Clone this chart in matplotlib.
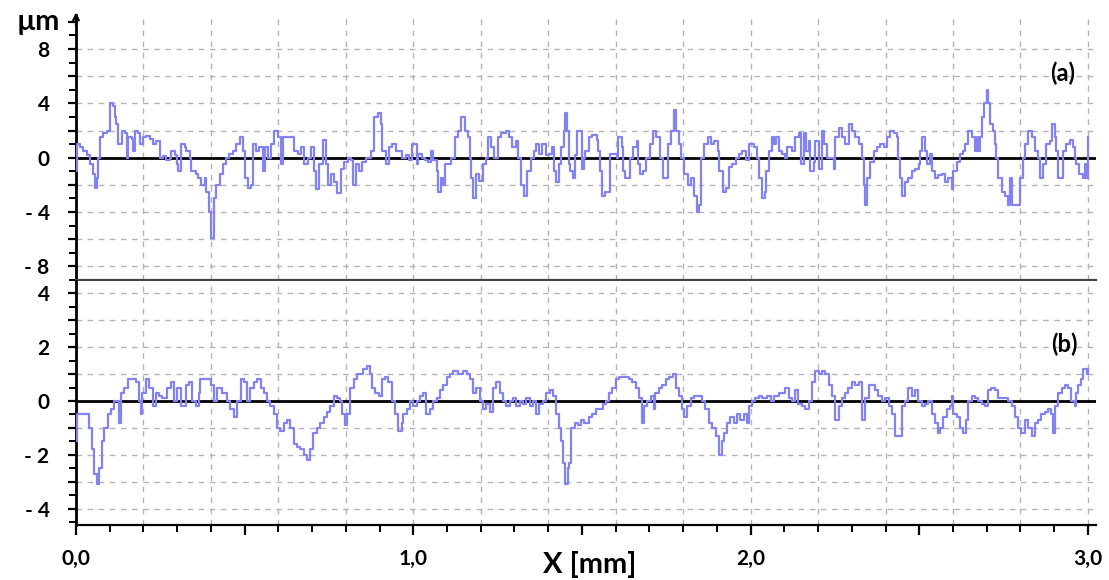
""" Perfiles de rugosidad (a) y (b) """

import matplotlib
matplotlib.use("Agg")
import matplotlib.pyplot as plt
from matplotlib.ticker import MultipleLocator, FuncFormatter

plt.rcParams["font.family"] = ["Lato", "DejaVu Sans"]
plt.rcParams["font.weight"] = "bold"

# perfil (a): x en mm, altura en um
x_a = [
  0.000, 0.003, 0.012, 0.022, 0.032, 0.041, 0.051, 0.056, 0.062, 0.066,
  0.071, 0.081, 0.091, 0.100, 0.110, 0.115, 0.120, 0.125, 0.135, 0.145,
  0.150, 0.155, 0.165, 0.169, 0.174, 0.184, 0.189, 0.199, 0.209, 0.219,
  0.229, 0.238, 0.248, 0.258, 0.268, 0.278, 0.283, 0.293, 0.298, 0.302,
  0.312, 0.322, 0.327, 0.337, 0.342, 0.357, 0.362, 0.371, 0.381, 0.386,
  0.394, 0.401, 0.408, 0.416, 0.426, 0.435, 0.445, 0.455, 0.465, 0.475,
  0.485, 0.495, 0.500, 0.509, 0.519, 0.524, 0.534, 0.544, 0.554, 0.559,
  0.568, 0.578, 0.588, 0.598, 0.608, 0.613, 0.623, 0.637, 0.647, 0.657,
  0.667, 0.677, 0.687, 0.697, 0.706, 0.711, 0.721, 0.731, 0.741, 0.746,
  0.756, 0.766, 0.775, 0.785, 0.795, 0.805, 0.815, 0.820, 0.830, 0.839,
  0.849, 0.859, 0.874, 0.884, 0.894, 0.903, 0.908, 0.918, 0.928, 0.938,
  0.948, 0.958, 0.967, 0.977, 0.987, 0.997,
  1.010, 1.015, 1.025, 1.034, 1.044, 1.051, 1.059, 1.069, 1.074, 1.083,
  1.088, 1.093, 1.103, 1.113, 1.123, 1.132, 1.142, 1.152, 1.162, 1.167,
  1.172, 1.178, 1.186, 1.196, 1.206, 1.216, 1.221, 1.230, 1.240, 1.250,
  1.260, 1.275, 1.284, 1.294, 1.304, 1.309, 1.319, 1.328, 1.338, 1.348,
  1.358, 1.363, 1.373, 1.382, 1.392, 1.402, 1.412, 1.417, 1.422, 1.431,
  1.439, 1.446, 1.451, 1.456, 1.461, 1.466, 1.473, 1.480, 1.485, 1.495,
  1.500, 1.505, 1.510, 1.520, 1.529, 1.544, 1.549, 1.554, 1.559, 1.569,
  1.578, 1.583, 1.593, 1.603, 1.608, 1.618, 1.623, 1.627, 1.637, 1.642,
  1.652, 1.662, 1.667, 1.672, 1.681, 1.691, 1.701, 1.711, 1.721, 1.730,
  1.740, 1.750, 1.755, 1.765, 1.772, 1.779, 1.789, 1.794, 1.804, 1.814,
  1.824, 1.833, 1.841, 1.848, 1.853, 1.863, 1.873, 1.882, 1.892, 1.902,
  1.907, 1.917, 1.926, 1.936, 1.946, 1.956, 1.966, 1.975, 1.985, 1.995,
  2.010, 2.020, 2.025, 2.034, 2.042, 2.046, 2.054, 2.062, 2.069, 2.074,
  2.084, 2.094, 2.103, 2.108, 2.123, 2.133, 2.143, 2.148, 2.158, 2.163,
  2.172, 2.177, 2.187, 2.192, 2.202, 2.212, 2.217, 2.227, 2.236, 2.246,
  2.251, 2.261, 2.271, 2.281, 2.291, 2.300, 2.310, 2.320, 2.330, 2.335,
  2.340, 2.345, 2.355, 2.365, 2.374, 2.384, 2.394, 2.404, 2.414, 2.424,
  2.433, 2.438, 2.443, 2.450, 2.458, 2.468, 2.478, 2.488, 2.498, 2.502,
  2.507, 2.517, 2.522, 2.532, 2.537, 2.547, 2.557, 2.567, 2.576, 2.586,
  2.596, 2.601, 2.611, 2.621, 2.631, 2.635, 2.645, 2.655, 2.665, 2.670,
  2.675, 2.680, 2.685, 2.693, 2.700, 2.704, 2.709, 2.719, 2.724, 2.729,
  2.734, 2.744, 2.754, 2.762, 2.768, 2.775, 2.783, 2.793, 2.798, 2.808,
  2.813, 2.823, 2.833, 2.842, 2.852, 2.857, 2.862, 2.867, 2.877, 2.887,
  2.894, 2.903, 2.906, 2.911, 2.921, 2.926, 2.936, 2.946, 2.956, 2.961,
  2.966, 2.975, 2.985, 2.990, 2.995, 3.000,
]
y_a = [
  -1.0, 1.0, 0.8, 0.5, 0.2, -0.5, -1.2, -2.2, -1.5, 0.0,
  1.5, 1.8, 2.0, 4.0, 3.8, 3.0, 2.5, 1.0, 2.0, 1.8,
  0.0, 1.5, 1.4, 0.5, 2.0, 1.8, 1.0, 1.5, 1.6, 1.4,
  1.0, 1.2, 0.0, 0.1, -0.2, 0.0, 0.5, 0.2, -0.5, -1.0,
  1.0, 0.8, 0.5, 0.0, -1.0, -1.2, -1.5, -2.0, -1.5, -2.5,
  -4.0, -5.9, -3.0, -2.0, -1.2, -0.5, 0.0, 0.3, 0.5, 1.0,
  1.5, 0.5, -1.5, -2.2, -2.0, 1.0, 0.5, 0.8, -1.0, 0.8,
  0.0, 1.0, 2.0, 1.5, -0.5, 1.5, 1.5, 1.5, 0.5, 0.3,
  0.8, -0.5, 0.0, 0.8, -1.0, -2.3, -0.5, 1.3, -0.5, -2.0,
  -1.2, -1.8, -2.6, -0.8, -0.3, 0.0, -0.2, -2.0, -0.5, -1.0,
  -0.3, 0.0, 0.5, 3.0, 3.3, 2.5, 0.5, -0.5, 0.8, 1.0,
  0.5, 0.5, 0.0, 0.2, -0.2, 1.0,
  -0.5, 0.3, 0.0, -0.2, -0.3, 0.5, -0.2, -1.0, -2.5, -1.5,
  -2.0, -0.5, -0.5, 0.0, 1.5, 2.0, 3.0, 2.0, 1.5, 0.0,
  -1.5, -3.0, -1.2, -1.7, -0.5, 0.0, 1.5, 0.8, 0.0, 1.5,
  1.8, 2.0, 1.5, 0.8, 1.2, 0.0, -2.0, -2.8, -1.0, 0.0,
  0.5, 1.0, 0.3, 1.0, 0.2, 0.3, 0.8, -1.0, -1.8, -0.5,
  0.8, 2.0, 3.3, 2.0, -0.5, -1.0, -1.5, 0.2, 2.0, 2.0,
  -0.8, 0.0, 0.5, 1.5, 1.7, 1.3, 0.5, -1.0, -2.8, -2.5,
  -2.5, 0.3, 0.3, 0.0, 1.5, 0.8, -1.0, -1.5, -1.5, 0.0,
  0.8, 1.2, -0.5, -1.2, -1.0, 0.0, 1.0, 2.0, 1.5, 0.0,
  -1.5, -1.5, 1.0, 2.0, 3.5, 2.0, 1.0, 0.0, -1.2, -2.0,
  -1.5, -2.8, -4.0, -3.5, 0.0, 1.0, 1.5, 1.0, 1.2, 0.5,
  -1.0, -2.5, -2.2, -0.7, -0.5, 0.0, 0.3, 0.5, -0.2, 1.0,
  0.8, 0.0, -1.5, -3.0, -2.5, -1.0, 0.5, 1.5, 1.0, 1.5,
  0.5, 0.3, 0.0, 0.8, 0.5, 1.5, 1.8, -0.5, 1.8, 0.5,
  1.2, -1.0, -0.3, 1.2, -0.8, 2.0, 1.0, 0.0, 0.0, -0.8,
  1.5, 2.2, 1.5, 1.0, 2.5, 2.0, 1.5, 1.0, 0.0, -2.0,
  -3.5, -1.5, -0.3, 0.5, 0.8, 1.0, 0.8, 1.5, 2.0, 1.8,
  1.5, 0.0, -1.5, -2.8, -1.8, -1.5, -1.0, -0.8, -0.5, 0.5,
  1.5, 0.5, -0.5, 0.3, -1.0, -1.5, -1.3, -1.2, -1.8, -1.5,
  -2.3, -1.0, -0.3, 0.3, 0.5, 1.0, 2.0, 1.5, 0.5, 1.5,
  0.5, 1.5, 3.0, 4.0, 5.0, 4.0, 2.5, 2.0, 1.0, 0.0,
  -1.5, -2.5, -2.8, -3.5, -1.5, -3.5, -3.5, -3.5, -1.5, 0.0,
  1.0, 2.0, 1.5, 0.5, 0.0, -1.5, -1.5, -0.5, 1.0, 1.2,
  2.5, 1.5, 0.5, -1.5, -1.5, 0.5, 1.0, 1.3, 0.8, 0.0,
  -0.5, -1.2, -1.5, -0.5, -1.5, 1.5,
]

# perfil (b)
x_b = [
  0.000, 0.003, 0.015, 0.030, 0.039, 0.046, 0.054, 0.062, 0.069, 0.076,
  0.084, 0.094, 0.103, 0.113, 0.123, 0.128, 0.133, 0.143, 0.153, 0.167,
  0.177, 0.187, 0.192, 0.197, 0.207, 0.217, 0.227, 0.236, 0.246, 0.256,
  0.271, 0.281, 0.291, 0.300, 0.310, 0.325, 0.335, 0.345, 0.355, 0.365,
  0.369, 0.389, 0.399, 0.409, 0.419, 0.433, 0.448, 0.458, 0.468, 0.478,
  0.488, 0.498, 0.507, 0.517, 0.527, 0.537, 0.547, 0.557, 0.567, 0.576,
  0.586, 0.596, 0.606, 0.616, 0.626, 0.635, 0.645, 0.655, 0.665, 0.675,
  0.685, 0.695, 0.704, 0.714, 0.724, 0.734, 0.744, 0.754, 0.764, 0.773,
  0.783, 0.788, 0.798, 0.803, 0.813, 0.823, 0.833, 0.842, 0.852, 0.862,
  0.872, 0.877, 0.887, 0.897, 0.906, 0.916, 0.926, 0.936, 0.946, 0.956,
  0.966, 0.970, 0.980, 0.990, 1.000, 1.010, 1.020, 1.030, 1.039, 1.049,
  1.059, 1.069, 1.079, 1.089, 1.099, 1.108, 1.118, 1.133, 1.148, 1.158,
  1.167, 1.177, 1.187, 1.197, 1.207, 1.217, 1.227, 1.236, 1.246, 1.256,
  1.266, 1.276, 1.286, 1.296, 1.305, 1.315, 1.325, 1.335, 1.345, 1.355,
  1.365, 1.374, 1.384, 1.394, 1.404, 1.414, 1.424, 1.433, 1.438, 1.443,
  1.450, 1.458, 1.463, 1.468, 1.478, 1.488, 1.498, 1.507,
  1.521, 1.531, 1.541, 1.551, 1.561, 1.570, 1.580, 1.590, 1.600, 1.610,
  1.625, 1.639, 1.649, 1.659, 1.669, 1.679, 1.684, 1.694, 1.704, 1.713,
  1.718, 1.728, 1.738, 1.748, 1.758, 1.770, 1.778, 1.787, 1.797, 1.802,
  1.812, 1.822, 1.832, 1.847, 1.856, 1.866, 1.876, 1.886, 1.896, 1.906,
  1.914, 1.921, 1.930, 1.940, 1.950, 1.960, 1.970, 1.980, 1.990, 1.996,
  2.004, 2.014, 2.024, 2.034, 2.049, 2.059, 2.068, 2.083, 2.093, 2.103,
  2.113, 2.123, 2.133, 2.142, 2.152, 2.162, 2.172, 2.182, 2.192, 2.202,
  2.211, 2.221, 2.231, 2.241, 2.251, 2.261, 2.271, 2.280, 2.290, 2.300,
  2.310, 2.320, 2.330, 2.340, 2.350, 2.359, 2.369, 2.379, 2.389, 2.399,
  2.409, 2.419, 2.428, 2.438, 2.448, 2.458, 2.468, 2.478, 2.488, 2.497,
  2.507, 2.517, 2.527, 2.537, 2.547, 2.555, 2.562, 2.571, 2.581, 2.591,
  2.596, 2.601, 2.611, 2.621, 2.631, 2.640, 2.645, 2.655, 2.665, 2.675,
  2.685, 2.695, 2.705, 2.714, 2.724, 2.734, 2.754, 2.764, 2.774, 2.783,
  2.793, 2.803, 2.813, 2.823, 2.833, 2.843, 2.852, 2.862, 2.872, 2.882,
  2.892, 2.897, 2.902, 2.912, 2.922, 2.931, 2.941, 2.951, 2.961, 2.966,
  2.971, 2.981, 2.986, 2.996, 3.000,
]
y_b = [
  -1.5, -0.5, -0.5, -0.5, -1.0, -1.8, -2.7, -3.1, -2.5, -1.5,
  -1.0, -0.5, -0.3, 0.0, 0.0, -0.8, 0.3, 0.5, 0.8, 0.8,
  0.7, 0.0, -0.5, 0.3, 0.8, 0.5, -0.2, 0.3, 0.2, 0.1,
  0.5, 0.7, 0.0, 0.5, -0.2, 0.6, 0.7, 0.0, -0.2, 0.3,
  0.8, 0.8, 0.6, 0.0, 0.5, 0.3, 0.0, -0.3, -0.6, 0.0,
  0.8, 0.7, 0.0, 0.5, 0.7, 0.8, 0.5, 0.3, 0.0, -0.2,
  -0.5, -1.0, -1.1, -0.8, -0.7, -1.0, -1.6, -1.7, -1.8, -2.0,
  -2.2, -1.8, -1.2, -1.0, -0.8, -0.6, -0.4, -0.2, 0.2, 0.1,
  0.0, -0.5, -0.9, -0.5, 0.5, 0.8, 1.0, 1.0, 1.2, 1.3,
  1.0, 0.5, 0.3, 0.2, 0.8, 0.9, 0.7, 0.0, -0.5, -1.1,
  -0.8, -0.5, -0.3, 0.0, -0.2, 0.0, 0.2, 0.3, -0.5, -0.3,
  0.0, 0.1, 0.4, 0.6, 0.9, 1.0, 1.1, 1.0, 1.1, 1.0,
  0.8, 0.3, 0.5, 0.0, -0.3, -0.1, -0.4, 0.5, 0.7, 0.3,
  0.0, -0.2, 0.0, 0.1, -0.2, 0.0, -0.1, 0.1, -0.2, 0.0,
  -0.5, -0.1, 0.0, 0.3, 0.4, 0.2, -0.5, -1.0, -1.5, -2.3,
  -3.1, -2.5, -2.3, -1.0, -0.8, -0.9, -0.7, -0.8,
  -0.6, -0.5, -0.3, -0.3, -0.1, 0.0, 0.3, 0.5, 0.8, 0.9,
  0.9, 0.8, 0.7, 0.5, 0.1, -0.8, -0.2, 0.0, 0.2, -0.3,
  0.3, 0.5, 0.6, 0.8, 0.9, 1.0, 0.5, 0.2, -0.3, -0.6,
  -0.2, 0.1, 0.2, 0.2, 0.0, -0.3, -0.8, -1.0, -1.3, -2.0,
  -1.5, -1.2, -0.8, -0.6, -0.8, -0.5, -0.7, -0.5, -0.8, -0.2,
  0.0, 0.1, 0.2, 0.1, 0.2, 0.0, 0.2, 0.3, 0.3, 0.5,
  0.1, 0.0, 0.4, -0.1, -0.2, -0.3, 0.0, 0.7, 1.1, 1.0,
  1.1, 1.0, 0.6, 0.2, -0.7, -0.2, 0.1, 0.3, 0.5, 0.7,
  0.6, 0.7, -0.7, 0.1, 0.6, 0.6, 0.4, 0.2, 0.0, 0.1,
  -0.2, -0.5, -1.3, -1.3, -0.2, 0.0, 0.5, 0.2, 0.4, 0.0,
  -0.2, -0.1, 0.0, -0.5, -0.8, -1.2, -1.0, -0.6, -0.3, -0.2,
  0.2, -0.5, -0.6, -1.0, -1.2, -0.7, 0.0, 0.2, 0.1, 0.0,
  -0.1, -0.2, 0.4, 0.5, 0.4, 0.1, 0.1, 0.0, -0.2, -0.6,
  -1.0, -1.2, -0.7, -1.0, -1.3, -0.8, -0.7, -0.5, -0.4, -0.3,
  -0.5, -1.2, -0.2, 0.3, 0.5, 0.6, 0.5, 0.0, -0.2, 0.3,
  0.6, 0.8, 1.2, 1.0, 1.2,
]

COLOR_PERFIL = "#8282f0"
COLOR_GRID = "#b4b4b4"
W, H = 1109, 580


def etiqueta_y(paso):
  def f(v, pos):
    if abs(v / paso - round(v / paso)) > 1e-6:
      return ""
    v = int(round(v))
    return f"- {abs(v)}" if v < 0 else f"{v}"
  return FuncFormatter(f)


def etiqueta_x(v, pos):
  if abs(v - round(v)) > 1e-6:
    return ""
  return f"{v:.1f}".replace(".", ",")


def estilo(ax, ylim, paso_grid, paso_label):
  ax.set_xlim(0, 3.024)
  ax.set_ylim(*ylim)
  ax.spines["right"].set_visible(False)
  ax.spines["top"].set_visible(False)
  ax.spines["left"].set_linewidth(2)
  ax.spines["bottom"].set_linewidth(1.6)
  ax.yaxis.set_major_locator(MultipleLocator(paso_grid))
  ax.yaxis.set_minor_locator(MultipleLocator(paso_grid / 2))
  ax.yaxis.set_major_formatter(etiqueta_y(paso_label))
  ax.xaxis.set_major_locator(MultipleLocator(0.2))
  ax.xaxis.set_minor_locator(MultipleLocator(0.1))
  ax.tick_params(axis="y", which="major", length=6, width=1.6, pad=13,
                 labelsize=15)
  ax.tick_params(axis="y", which="minor", length=5, width=1.4)
  ax.grid(True, which="major", color=COLOR_GRID, linestyle=(0, (4, 4)),
          linewidth=1.0)
  ax.set_axisbelow(True)


fig = plt.figure(figsize=(W / 100, H / 100), dpi=100)
ax_a = fig.add_axes([76 / W, 1 - 280 / H, 1020 / W, 265 / H])
ax_b = fig.add_axes([76 / W, 1 - 525 / H, 1020 / W, 244 / H])

estilo(ax_a, (-9, 10.5), 2, 4)
estilo(ax_b, (-4.61, 4.46), 1, 2)

for ax, x, y in ((ax_a, x_a, y_a), (ax_b, x_b, y_b)):
  ax.axhline(0, color="black", linewidth=2, zorder=3)
  ax.plot(x, y, drawstyle="steps-post", color=COLOR_PERFIL, linewidth=1.6,
          zorder=4)

ax_a.tick_params(axis="x", which="both", length=0, labelbottom=False)
ax_a.spines["bottom"].set_color("#444444")
ax_a.grid(False, axis="y")
for v in (-8, -6, -4, -2, 2, 4, 6, 8):
  ax_a.axhline(v, color=COLOR_GRID, linestyle=(0, (4, 4)), linewidth=1.0,
               zorder=0)

ax_b.xaxis.set_major_locator(MultipleLocator(0.5))
ax_b.xaxis.set_minor_locator(MultipleLocator(0.1))
ax_b.xaxis.set_major_formatter(FuncFormatter(etiqueta_x))
ax_b.tick_params(axis="x", which="major", length=7, width=1.6, pad=10,
                 labelsize=15)
ax_b.tick_params(axis="x", which="minor", length=5, width=1.4)
ax_b.grid(False, axis="x")
for v in [i * 0.2 for i in range(1, 16)]:
  ax_b.axvline(v, color=COLOR_GRID, linestyle=(0, (4, 4)), linewidth=1.0,
               zorder=0)

ax_a.text(0.967, 0.78, "(a)", transform=ax_a.transAxes, fontsize=17,
          fontweight="bold", ha="center", va="center")
ax_b.text(0.969, 0.74, "(b)", transform=ax_b.transAxes, fontsize=17,
          fontweight="bold", ha="center", va="center")

ax_a.annotate("", xy=(0, 1.01), xytext=(0, 0.96), xycoords="axes fraction",
              arrowprops=dict(arrowstyle="->", lw=1.6, color="black",
                              shrinkA=0, shrinkB=0))
fig.text(38 / W, 1 - 22 / H, "µm", fontsize=21, fontweight="bold",
         ha="center", va="center")
fig.text(590 / W, 1 - 565 / H, "X [mm]", fontsize=21, fontweight="bold",
         ha="center", va="center")

fig.savefig("out.png", dpi=100)
